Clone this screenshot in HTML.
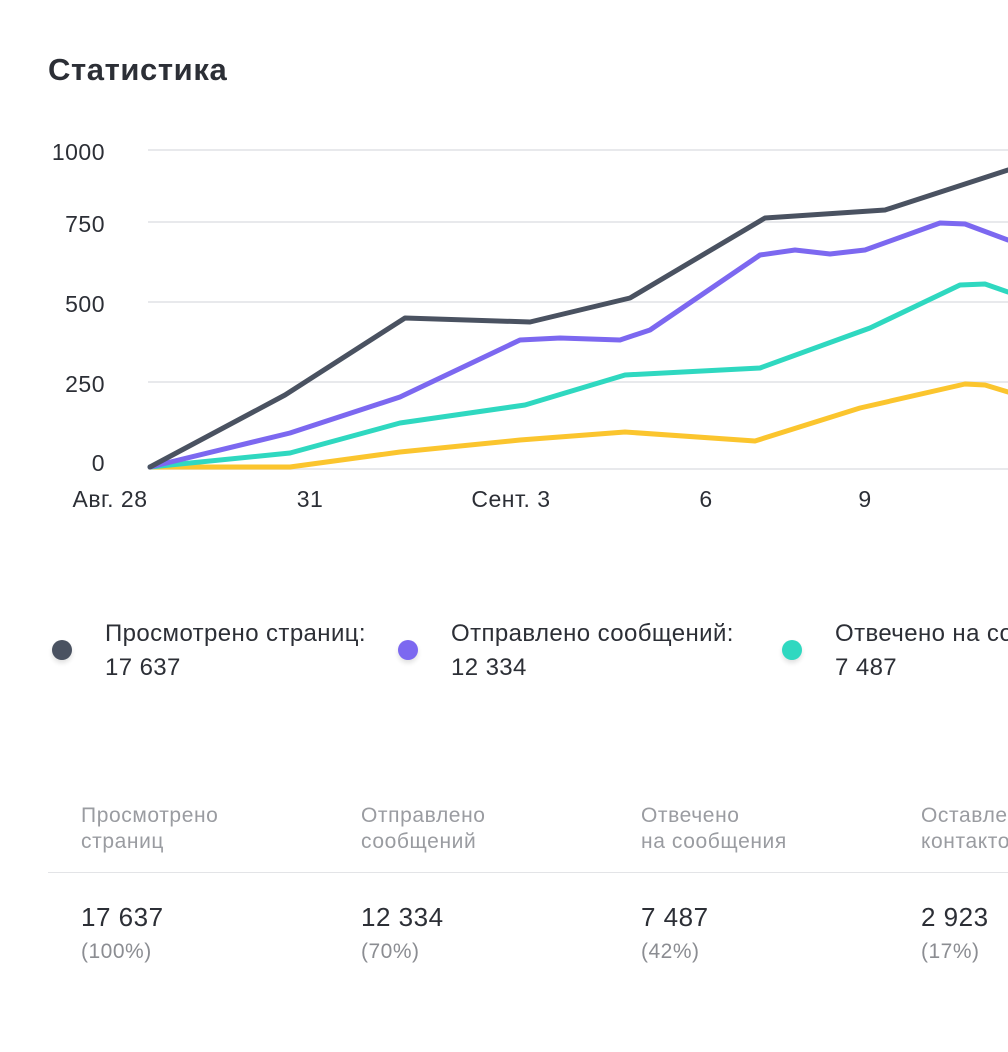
<!DOCTYPE html>
<html style="overflow:hidden"><head><meta charset="utf-8"><style>
html,body{margin:0;width:1008px;height:1052px;overflow:hidden}
body{background:#fff;font-family:"Liberation Sans",sans-serif;position:relative}
.a{position:absolute;white-space:nowrap}
.t{font-size:24px;color:#2c2f36;letter-spacing:0.4px}
.g{font-size:21px;color:#9a9ca1;line-height:26px;letter-spacing:0.6px}
.n{font-size:26px;color:#2c2f36;letter-spacing:0.5px}
.p{font-size:21px;color:#8b8d92;letter-spacing:0.5px}
.dot{position:absolute;width:20px;height:20px;border-radius:50%;box-shadow:0 3px 5px rgba(0,0,0,.12)}
#w{position:absolute;left:0;top:0;width:1008px;height:1052px;overflow:hidden}
</style></head><body><div id="w">
<div class="a" style="left:48px;top:52px;font-size:31px;font-weight:bold;color:#2c2f36;letter-spacing:0.6px">Статистика</div>
<svg class="a" style="left:0;top:0" width="1008" height="520">
<g stroke="#e8e9ec" stroke-width="2">
<line x1="148" y1="150" x2="1008" y2="150"/><line x1="148" y1="222" x2="1008" y2="222"/>
<line x1="148" y1="302" x2="1008" y2="302"/><line x1="148" y1="382" x2="1008" y2="382"/>
<line x1="148" y1="469" x2="1008" y2="469"/></g>
<g font-size="23" fill="#2c2f36" text-anchor="end" font-family="Liberation Sans" letter-spacing="0.5">
<text x="105" y="160">1000</text><text x="105" y="232">750</text><text x="105" y="312">500</text><text x="105" y="392">250</text><text x="105" y="471">0</text></g>
<g font-size="23" fill="#2c2f36" text-anchor="middle" font-family="Liberation Sans" letter-spacing="0.5">
<text x="110" y="507">Авг. 28</text><text x="310" y="507">31</text><text x="511" y="507">Сент. 3</text><text x="706" y="507">6</text><text x="865" y="507">9</text></g>
<g fill="none" stroke-width="5" stroke-linejoin="round" stroke-linecap="round">
<polyline stroke="#fbc52e" points="150,467 290,467 400,452 520,440 625,432 755,441 860,408 965,384 985,385 1008,392"/>
<polyline stroke="#2fd8c0" points="150,467 290,453 400,423 525,405 625,375 760,368 870,328 960,285 985,284 1008,292"/>
<polyline stroke="#7c68f0" points="150,467 290,433 400,397 520,340 560,338 620,340 650,330 760,255 795,250 830,254 865,250 940,223 965,224 1008,240"/>
<polyline stroke="#4a5261" points="150,467 285,395 405,318 530,322 630,298 765,218 885,210 1008,170"/>
</g></svg>
<div class="dot" style="left:52px;top:640px;background:#4a5261"></div>
<div class="dot" style="left:398px;top:640px;background:#7c68f0"></div>
<div class="dot" style="left:782px;top:640px;background:#2fd8c0"></div>
<div class="a t" style="left:105px;top:620px">Просмотрено страниц:</div>
<div class="a t" style="left:105px;top:654px">17 637</div>
<div class="a t" style="left:451px;top:620px">Отправлено сообщений:</div>
<div class="a t" style="left:451px;top:654px">12 334</div>
<div class="a t" style="left:835px;top:620px">Отвечено на сообщения:</div>
<div class="a t" style="left:835px;top:654px">7 487</div>
<div class="a g" style="left:81px;top:803px">Просмотрено<br>страниц</div>
<div class="a g" style="left:361px;top:803px">Отправлено<br>сообщений</div>
<div class="a g" style="left:641px;top:803px">Отвечено<br>на сообщения</div>
<div class="a g" style="left:921px;top:803px">Оставлено<br>контактов</div>
<div class="a" style="left:48px;top:872px;width:960px;height:1px;background:#e3e4e7"></div>
<div class="a n" style="left:81px;top:902px">17 637</div><div class="a p" style="left:81px;top:940px">(100%)</div>
<div class="a n" style="left:361px;top:902px">12 334</div><div class="a p" style="left:361px;top:940px">(70%)</div>
<div class="a n" style="left:641px;top:902px">7 487</div><div class="a p" style="left:641px;top:940px">(42%)</div>
<div class="a n" style="left:921px;top:902px">2 923</div><div class="a p" style="left:921px;top:940px">(17%)</div>
</div></body></html>
